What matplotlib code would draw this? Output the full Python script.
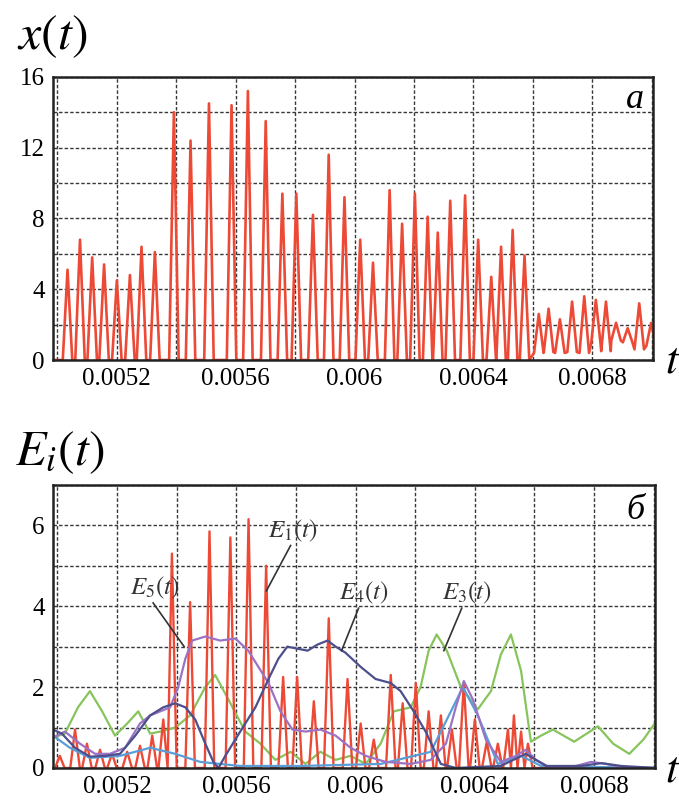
import numpy as np
import matplotlib
matplotlib.use('Agg')
import matplotlib.pyplot as plt
from matplotlib.ticker import MultipleLocator, FixedLocator

plt.rcParams['font.family'] = ['Liberation Serif', 'DejaVu Serif']
plt.rcParams['mathtext.fontset'] = 'stix'

# ---- panel a: x(t) spikes (peak time, peak height, floor level) ----
x_peak_t = [0.005034, 0.005076, 0.005117, 0.005157, 0.005200, 0.005244, 0.005283, 0.005328,
            0.005392, 0.005448, 0.005510, 0.005586, 0.005641, 0.005701, 0.005757, 0.005804,
            0.005860, 0.005913, 0.005966, 0.006019, 0.006062, 0.006118, 0.006160, 0.006203,
            0.006246, 0.006280, 0.006322, 0.006372, 0.006416, 0.006460, 0.006493, 0.006532,
            0.006572, 0.006620, 0.006653, 0.006691, 0.006732, 0.006773, 0.006812, 0.006846,
            0.006880, 0.006919, 0.006958, 0.006998]
x_peak_h = [5.1, 6.8, 5.8, 5.4, 4.5, 4.8, 6.4, 6.1,
            14.0, 12.4, 14.5, 14.4, 15.2, 13.5, 9.4, 9.4,
            8.2, 11.6, 9.2, 6.8, 5.5, 9.6, 7.7, 9.4,
            8.1, 7.2, 9.0, 9.3, 6.8, 4.7, 6.4, 7.35,
            5.9, 2.6, 2.9, 2.3, 3.3, 3.6, 3.4, 3.3,
            2.1, 1.8, 3.2, 2.1]
x_floor = [0.0] * 33 + [0.4, 0.45, 0.4, 0.45, 0.4, 0.9, 0.5, 1.1, 1.0, 0.6, 0.8]

# ---- panel б: E_i(t) ----
e1_peak_t = [0.005008, 0.005059, 0.005099, 0.005143, 0.005183, 0.005234, 0.005277, 0.005318,
             0.005355, 0.005384, 0.005445, 0.005510, 0.005580, 0.005641, 0.005700, 0.005757,
             0.005804, 0.005860, 0.005910, 0.005973, 0.006017, 0.006061, 0.006118, 0.006158,
             0.006202, 0.006245, 0.006286, 0.006323, 0.006363, 0.006400, 0.006440, 0.006477,
             0.006511, 0.006531, 0.006555, 0.006578]
e1_peak_h = [0.3, 0.95, 0.6, 0.45, 0.35, 0.4, 0.55, 0.8,
             1.2, 5.3, 4.1, 5.85, 5.7, 6.15, 5.0, 2.25,
             2.25, 1.65, 3.7, 2.2, 1.1, 0.7, 2.3, 1.6,
             2.1, 1.4, 1.3, 0.95, 2.1, 1.2, 0.65, 0.6,
             0.95, 1.3, 0.9, 0.6]

e2_t = [0.004985, 0.005042, 0.005109, 0.005210, 0.005311, 0.005395, 0.005479, 0.005613,
        0.005815, 0.006084, 0.006252, 0.006313, 0.006360, 0.006410, 0.006477, 0.006555,
        0.006622, 0.007008]
e2_v = [0.8, 0.5, 0.25, 0.3, 0.5, 0.35, 0.15, 0.05,
        0.05, 0.1, 0.4, 1.3, 2.0, 1.3, 0.1, 0.3,
        0.05, 0.0]

e3_t = [0.004985, 0.005025, 0.005069, 0.005109, 0.005150, 0.005193, 0.005234, 0.005271,
        0.005311, 0.005345, 0.005395, 0.005445, 0.005496, 0.005529, 0.005573, 0.005630,
        0.005681, 0.005731, 0.005782, 0.005832, 0.005882, 0.005933, 0.005983, 0.006034,
        0.006084, 0.006128, 0.006185, 0.006218, 0.006245, 0.006272, 0.006306, 0.006353,
        0.006410, 0.006454, 0.006487, 0.006521, 0.006555, 0.006588, 0.006622, 0.006662,
        0.006733, 0.006813, 0.006864, 0.006918, 0.006965, 0.007008]
e3_v = [0.75, 0.85, 1.5, 1.9, 1.4, 0.8, 1.1, 1.4,
        0.85, 0.9, 1.0, 1.3, 2.0, 2.3, 1.7, 0.9,
        0.6, 0.2, 0.4, 0.1, 0.4, 0.2, 0.3, 0.1,
        0.6, 1.4, 1.5, 2.0, 2.9, 3.3, 2.9, 2.0,
        1.45, 1.9, 2.8, 3.3, 2.4, 0.65, 0.8, 0.95,
        0.65, 1.03, 0.6, 0.35, 0.7, 1.15]

e4_t = [0.004985, 0.005015, 0.005059, 0.005109, 0.005160, 0.005210, 0.005261, 0.005311,
        0.005355, 0.005395, 0.005429, 0.005462, 0.005496, 0.005523, 0.005540, 0.005563,
        0.005613, 0.005664, 0.005708, 0.005741, 0.005771, 0.005805, 0.005839, 0.005872,
        0.005906, 0.005933, 0.005966, 0.006017, 0.006067, 0.006118, 0.006151, 0.006195,
        0.006235, 0.006286, 0.006336, 0.006487, 0.006571, 0.006639, 0.006756, 0.006824,
        0.006891, 0.007008]
e4_v = [0.95, 0.85, 0.5, 0.28, 0.3, 0.35, 0.8, 1.3,
        1.5, 1.6, 1.5, 1.2, 0.6, 0.15, 0.0, 0.3,
        0.9, 1.5, 2.2, 2.7, 3.0, 2.95, 2.9, 3.05,
        3.15, 3.0, 2.85, 2.5, 2.2, 2.1, 1.9, 1.4,
        0.9, 0.1, 0.0, 0.05, 0.35, 0.05, 0.05, 0.12,
        0.05, 0.0]

e5_t = [0.004985, 0.005025, 0.005076, 0.005126, 0.005176, 0.005227, 0.005277, 0.005311,
        0.005345, 0.005378, 0.005405, 0.005429, 0.005452, 0.005496, 0.005546, 0.005597,
        0.005640, 0.005674, 0.005708, 0.005748, 0.005788, 0.005832, 0.005882, 0.005933,
        0.005983, 0.006034, 0.006101, 0.006185, 0.006252, 0.006303, 0.006336, 0.006363,
        0.006393, 0.006437, 0.006487, 0.006538, 0.006571, 0.006605, 0.006655, 0.006739,
        0.006790, 0.006840, 0.006908, 0.007008]
e5_v = [0.75, 0.9, 0.6, 0.35, 0.35, 0.5, 1.1, 1.3,
        1.4, 1.5, 2.0, 2.7, 3.15, 3.25, 3.15, 3.2,
        2.9, 2.5, 2.1, 1.4, 0.95, 0.9, 0.95, 0.8,
        0.5, 0.3, 0.15, 0.1, 0.2, 0.6, 1.5, 2.15,
        1.7, 0.7, 0.15, 0.3, 0.45, 0.2, 0.0, 0.05,
        0.15, 0.1, 0.0, 0.0]

x_ticks = [0.0052, 0.0056, 0.0060, 0.0064, 0.0068]
x_tick_labels = ['0.0052', '0.0056', '0.006', '0.0064', '0.0068']
t_min, t_max = 0.004985, 0.007005


def spikes(peak_t, peak_h, floor, half_w=1.6e-5):
    pt = np.asarray(peak_t)
    ph = np.asarray(peak_h)
    fl = np.broadcast_to(np.asarray(floor, dtype=float), pt.shape)
    gaps = np.diff(pt) / 2
    wl = np.minimum(np.r_[half_w, gaps], half_w)
    wr = np.minimum(np.r_[gaps, half_w], half_w)
    ts = [t_min]
    vs = [fl[0]]
    for t, h, f, a, b in zip(pt, ph, fl, wl, wr):
        ts += [t - a, t, t + b]
        vs += [f, h, f]
    ts.append(t_max)
    vs.append(fl[-1])
    return np.array(ts), np.array(vs)


def style_axes(ax, ymax, ymajor, yminor):
    ax.set_xlim(t_min, t_max)
    ax.set_ylim(0, ymax)
    ax.xaxis.set_major_locator(FixedLocator(x_ticks))
    ax.set_xticklabels(x_tick_labels)
    ax.xaxis.set_minor_locator(MultipleLocator(0.0002))
    ax.yaxis.set_major_locator(MultipleLocator(ymajor))
    ax.yaxis.set_minor_locator(MultipleLocator(yminor))
    ax.grid(which='both', color='#383838', linestyle=(0, (2.5, 1.5)), linewidth=1.0)
    ax.set_axisbelow(True)
    ax.tick_params(which='both', length=0, labelsize=18, pad=6)
    for sp in ax.spines.values():
        sp.set_linewidth(1.8)
        sp.set_color('#222222')


fig = plt.figure(figsize=(6.79, 8.09), dpi=100)

# panel a
ax1 = fig.add_axes([0.078, 0.555, 0.884, 0.350])
tx, vx = spikes(x_peak_t, x_peak_h, x_floor)
ax1.plot(tx, vx, color='#ec4a36', linewidth=1.9)
style_axes(ax1, 16, 4, 2)
ax1.text(0.985, 0.92, 'a', transform=ax1.transAxes, ha='right', va='center',
         fontsize=26, style='italic')
fig.text(0.077, 0.955, '$x(t)$', ha='center', va='center', fontsize=36)
fig.text(0.99, 0.553, '$t$', ha='center', va='center', fontsize=32)

# panel б
ax2 = fig.add_axes([0.078, 0.0507, 0.887, 0.350])
t1, v1 = spikes(e1_peak_t, e1_peak_h, 0.0)
ax2.plot(e3_t, e3_v, color='#88c45c', linewidth=1.6)
ax2.plot(t1, v1, color='#ec4a36', linewidth=1.7)
ax2.plot(e2_t, e2_v, color='#5a9ed8', linewidth=1.6)
ax2.plot(e5_t, e5_v, color='#9c72c4', linewidth=1.6)
ax2.plot(e4_t, e4_v, color='#4c4f8c', linewidth=1.6)
style_axes(ax2, 7, 2, 1)
ax2.text(0.982, 0.91, 'б', transform=ax2.transAxes, ha='right', va='center',
         fontsize=26, style='italic')
fig.text(0.088, 0.440, '$E_i(t)$', ha='center', va='center', fontsize=36)
fig.text(0.99, 0.048, '$t$', ha='center', va='center', fontsize=32)

# curve labels with leader lines
labels = [('$E_1(t)$', 0.005788, 5.87, 0.005782, 5.5, 0.005701, 4.38),
          ('$E_5(t)$', 0.005328, 4.45, 0.005321, 4.08, 0.005425, 3.0),
          ('$E_4(t)$', 0.006027, 4.33, 0.006010, 3.95, 0.005953, 2.9),
          ('$E_3(t)$', 0.006373, 4.33, 0.006356, 3.95, 0.006296, 2.9)]
for txt, tx0, ty0, lx0, ly0, lx1, ly1 in labels:
    ax2.text(tx0, ty0, txt, ha='center', va='center', fontsize=18, color='#333333')
    ax2.plot([lx0, lx1], [ly0, ly1], color='#333333', linewidth=1.2)

fig.savefig('out.png', dpi=100)
